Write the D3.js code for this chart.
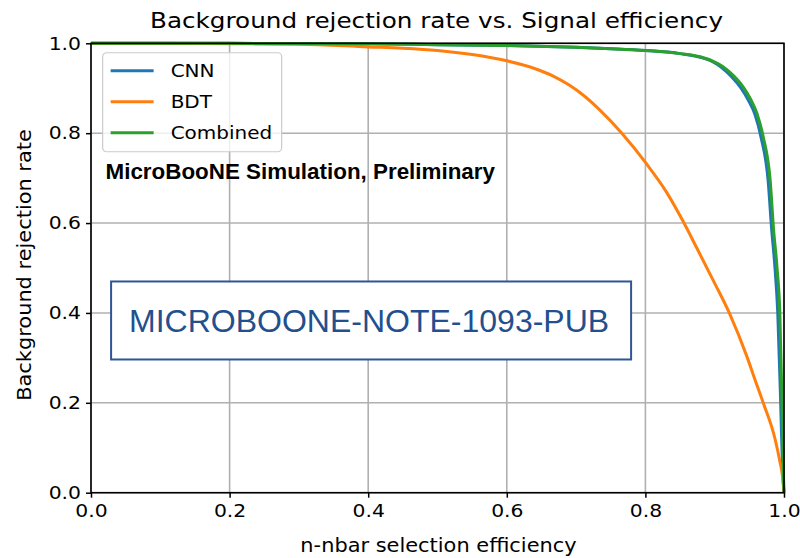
<!DOCTYPE html>
<html>
<head>
<meta charset="utf-8">
<script src="https://cdn.jsdelivr.net/npm/d3@7"></script>
<style>
  body { margin: 0; background: #fff; }
  svg { display: block; }
</style>
</head>
<body>
<svg id="chart" width="800" height="558"></svg>
<script>
// ---- data ----
const xTicks = [0, 0.2, 0.4, 0.6, 0.8, 1.0];
const yTicks = [0, 0.2, 0.4, 0.6, 0.8, 1.0];

const bdtEff = [0, 0.1, 0.2, 0.3, 0.4, 0.45, 0.5, 0.55, 0.6, 0.64, 0.667, 0.69, 0.71, 0.734, 0.766, 0.802, 0.83, 0.854, 0.874, 0.898, 0.922, 0.946, 0.958, 0.97, 0.987, 0.994, 0.998, 1.0];
const bdtRej = [1.0, 1.0, 0.999, 0.998, 0.992, 0.989, 0.984, 0.975, 0.961, 0.944, 0.927, 0.907, 0.885, 0.852, 0.8, 0.731, 0.67, 0.605, 0.545, 0.472, 0.397, 0.305, 0.252, 0.2, 0.12, 0.07, 0.035, 0.0];

const cnnEff = [0, 0.2, 0.4, 0.5, 0.6, 0.7, 0.75, 0.8, 0.85, 0.879, 0.897, 0.91, 0.924, 0.938, 0.949, 0.958, 0.967, 0.977, 0.982, 0.987, 0.991, 0.995, 0.998, 1.0];
const cnnRej = [1.0, 1.0, 0.999, 0.997, 0.995, 0.991, 0.988, 0.984, 0.977, 0.969, 0.959, 0.946, 0.926, 0.9, 0.872, 0.842, 0.79, 0.696, 0.59, 0.5, 0.4, 0.21, 0.05, 0.0];

const combEff = [0, 0.2, 0.4, 0.5, 0.6, 0.7, 0.75, 0.8, 0.85, 0.879, 0.898, 0.912, 0.927, 0.941, 0.952, 0.961, 0.97, 0.98, 0.985, 0.99, 0.994, 0.997, 0.999, 1.0];
const combRej = [1.0, 1.0, 0.999, 0.997, 0.995, 0.991, 0.988, 0.984, 0.977, 0.97, 0.96, 0.948, 0.928, 0.903, 0.875, 0.844, 0.792, 0.696, 0.585, 0.5, 0.4, 0.21, 0.05, 0.0];

const seriesNames = ['CNN', 'BDT', 'Combined'];
const seriesColors = ['#1f77b4', '#ff7f0e', '#2ca02c'];

const DEJAVU = '"DejaVu Sans", sans-serif';
const ARIAL = '"Liberation Sans", Arial, sans-serif';

// the reference text is a bit wider than plain DejaVu, so stretch it
function stretch(sel, factor) {
  sel.each(function () {
    const len = this.getComputedTextLength();
    d3.select(this).attr('textLength', len * factor).attr('lengthAdjust', 'spacingAndGlyphs');
  });
}

// ---- layout ----
const W = 800, H = 558;
const margin = { top: 43.3, right: 16, bottom: 65.3, left: 91 };
const iw = W - margin.left - margin.right;
const ih = H - margin.top - margin.bottom;

const svg = d3.select('#chart');
const g = svg.append('g').attr('transform', `translate(${margin.left},${margin.top})`);

const x = d3.scaleLinear().domain([0, 1]).range([0, iw]);
const y = d3.scaleLinear().domain([0, 1]).range([ih, 0]);

// grid
g.append('g').selectAll('line').data(xTicks).join('line')
  .attr('x1', d => x(d)).attr('x2', d => x(d)).attr('y1', 0).attr('y2', ih)
  .attr('stroke', '#b0b0b0').attr('stroke-width', 1.6);
g.append('g').selectAll('line').data(yTicks).join('line')
  .attr('x1', 0).attr('x2', iw).attr('y1', d => y(d)).attr('y2', d => y(d))
  .attr('stroke', '#b0b0b0').attr('stroke-width', 1.6);

// curves
const line = d3.line().x(d => x(d[0])).y(d => y(d[1])).curve(d3.curveMonotoneX);
const series = [
  d3.zip(cnnEff, cnnRej),
  d3.zip(bdtEff, bdtRej),
  d3.zip(combEff, combRej)
];
series.forEach((pts, i) => {
  g.append('path').datum(pts)
    .attr('d', line)
    .attr('fill', 'none')
    .attr('stroke', seriesColors[i])
    .attr('stroke-width', 3)
    .attr('stroke-linejoin', 'round');
});

// axes
const xAxis = g.append('g').attr('transform', `translate(0,${ih})`)
  .call(d3.axisBottom(x).tickValues(xTicks).tickFormat(d3.format('.1f')).tickSize(5).tickPadding(7));
const yAxis = g.append('g')
  .call(d3.axisLeft(y).tickValues(yTicks).tickFormat(d3.format('.1f')).tickSize(5).tickPadding(5));
[xAxis, yAxis].forEach(a => {
  a.selectAll('text').attr('font-size', 18).attr('font-family', DEJAVU).attr('fill', '#000');
  a.selectAll('line').attr('stroke', '#000').attr('stroke-width', 1.5);
  a.select('.domain').remove();
  stretch(a.selectAll('text'), 1.13);
});

// frame
g.append('rect').attr('width', iw).attr('height', ih)
  .attr('fill', 'none').attr('stroke', '#000').attr('stroke-width', 1.6);

// legend
const leg = g.append('g').attr('transform', `translate(${x(0.0168)},${y(0.979)})`);
leg.append('rect').attr('width', 179).attr('height', 99).attr('rx', 4)
  .attr('fill', '#fff').attr('fill-opacity', 0.8).attr('stroke', '#cccccc').attr('stroke-width', 1.2);
seriesNames.forEach((name, i) => {
  const yy = 18 + i * 31;
  leg.append('line').attr('x1', 8).attr('x2', 51).attr('y1', yy).attr('y2', yy)
    .attr('stroke', seriesColors[i]).attr('stroke-width', 3);
  leg.append('text').attr('x', 68).attr('y', yy).attr('dy', '0.35em')
    .attr('font-family', DEJAVU).attr('font-size', 18).text(name);
});
stretch(leg.selectAll('text'), 1.11);

// annotations
g.append('text')
  .attr('x', x(0.021)).attr('y', y(0.698))
  .attr('font-family', ARIAL)
  .attr('font-weight', 'bold').attr('font-size', 22.4)
  .text('MicroBooNE Simulation, Preliminary');

const note = g.append('g').attr('transform', `translate(${x(0.029)},${y(0.47)})`);
note.append('rect').attr('width', 520).attr('height', 78)
  .attr('fill', '#fff').attr('stroke', '#2f5597').attr('stroke-width', 2);
note.append('text').attr('x', 258).attr('y', 39).attr('dy', '0.36em')
  .attr('text-anchor', 'middle')
  .attr('font-family', ARIAL)
  .attr('font-size', 32).attr('fill', '#234f8e')
  .text('MICROBOONE-NOTE-1093-PUB');

// titles
const title = svg.append('text').attr('x', margin.left + iw / 2 - 1).attr('y', 28)
  .attr('text-anchor', 'middle').attr('font-family', DEJAVU).attr('font-size', 22)
  .text('Background rejection rate vs. Signal efficiency');
stretch(title, 1.12);
const xLabel = svg.append('text').attr('x', margin.left + iw / 2 + 1).attr('y', 552)
  .attr('text-anchor', 'middle').attr('font-family', DEJAVU).attr('font-size', 19)
  .text('n-nbar selection efficiency');
stretch(xLabel, 1.1);
const yLabel = svg.append('text')
  .attr('transform', `translate(31,${margin.top + ih / 2 - 3}) rotate(-90)`)
  .attr('text-anchor', 'middle').attr('font-family', DEJAVU).attr('font-size', 19)
  .text('Background rejection rate');
stretch(yLabel, 1.1);
</script>
</body>
</html>
